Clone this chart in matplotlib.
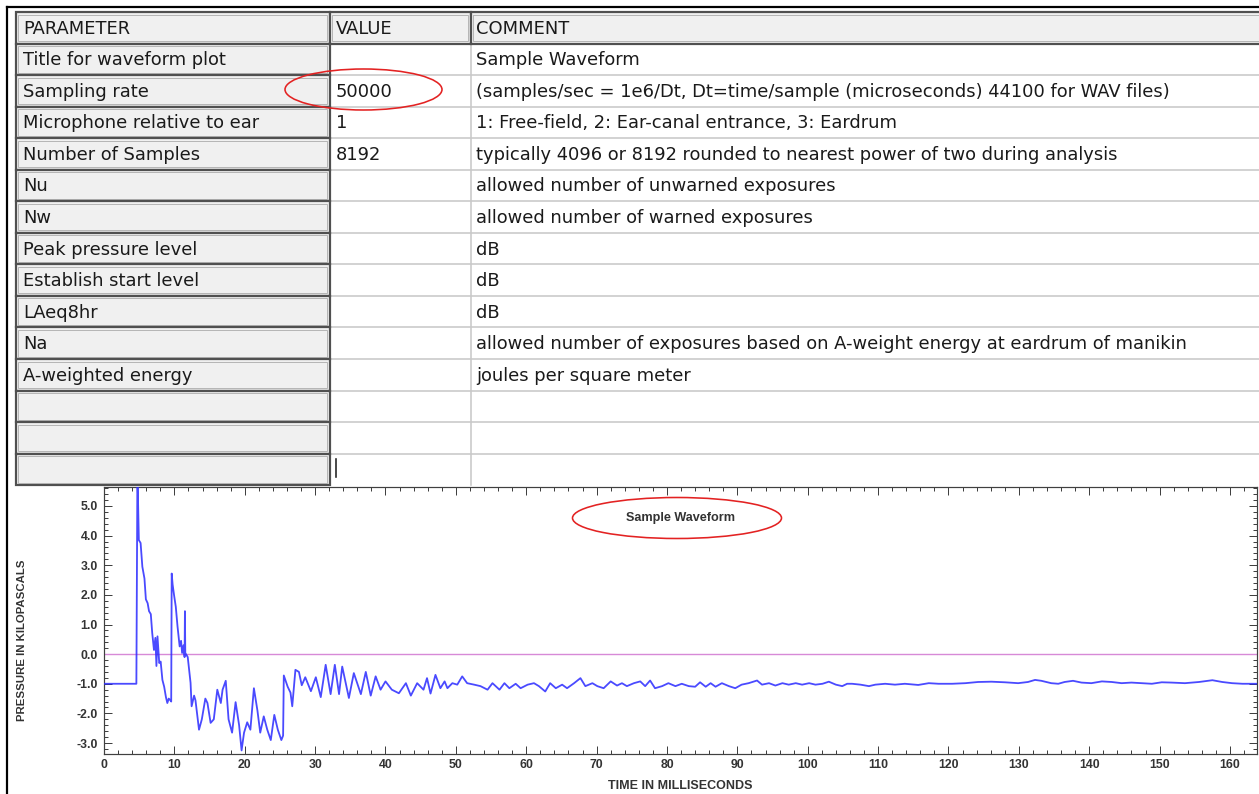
import matplotlib
matplotlib.use("Agg")
import matplotlib.pyplot as plt
from matplotlib.patches import Rectangle, Ellipse
from matplotlib.ticker import MultipleLocator, FormatStrFormatter

# ---------------- data ----------------
param_names = ["Title for waveform plot", "Sampling rate", "Microphone relative to ear",
               "Number of Samples", "Nu", "Nw", "Peak pressure level", "Establish start level",
               "LAeq8hr", "Na", "A-weighted energy", "", "", ""]
param_values = ["", "50000", "1", "8192", "", "", "", "", "", "", "", "", "", ""]
param_comments = ["Sample Waveform",
                  "(samples/sec = 1e6/Dt, Dt=time/sample (microseconds) 44100 for WAV files)",
                  "1: Free-field, 2: Ear-canal entrance, 3: Eardrum",
                  "typically 4096 or 8192 rounded to nearest power of two during analysis",
                  "allowed number of unwarned exposures",
                  "allowed number of warned exposures",
                  "dB", "dB", "dB",
                  "allowed number of exposures based on A-weight energy at eardrum of manikin",
                  "joules per square meter", "", "", ""]
header_labels = ["PARAMETER", "VALUE", "COMMENT"]

plot_title = "Sample Waveform"
x_label = "TIME IN MILLISECONDS"
y_label = "PRESSURE IN KILOPASCALS"

time_ms = [0.0, 4.6, 4.75, 4.95, 5.2, 5.45, 5.75, 5.95, 6.2, 6.4, 6.65, 6.85, 7.1, 7.3, 7.45,
           7.6, 7.85, 8.05, 8.3, 8.55, 8.8, 9.0, 9.2, 9.4, 9.55, 9.62, 9.75, 9.95, 10.2, 10.45,
           10.75, 10.95, 11.1, 11.3, 11.45, 11.5, 11.55, 11.9, 12.3, 12.45, 12.8, 13.0, 13.5,
           13.9, 14.4, 14.7, 15.15, 15.6, 16.1, 16.6, 16.85, 17.3, 17.7, 18.2, 18.7, 19.2,
           19.55, 19.9, 20.35, 20.8, 21.3, 21.8, 22.2, 22.7, 23.2, 23.7, 24.2, 24.7, 25.2,
           25.45, 25.55, 26.1, 26.5, 26.75, 27.2, 27.7, 28.1, 28.6, 29.4, 30.1, 30.8, 31.5,
           32.2, 32.8, 33.4, 33.85, 34.8, 35.5, 36.5, 37.2, 37.9, 38.6, 39.3, 40.0, 40.9,
           41.9, 42.9, 43.6, 44.5, 45.4, 45.9, 46.4, 47.1, 47.8, 48.4, 48.8, 49.5, 50.2,
           50.9, 51.6, 52.6, 53.5, 54.5, 55.2, 56.2, 56.9, 57.6, 58.5, 59.2, 60.2, 61.1,
           61.8, 62.7, 63.4, 64.2, 65.1, 65.8, 66.8, 67.7, 68.4, 69.4, 70.1, 71.0, 72.0,
           72.9, 73.6, 74.3, 75.3, 76.2, 76.9, 77.6, 78.3, 79.3, 80.2, 81.2, 82.1, 83.1,
           84.0, 84.7, 85.5, 86.2, 86.9, 87.8, 88.8, 89.7, 90.6, 91.6, 92.8, 93.5, 94.5,
           95.4, 96.4, 97.3, 98.3, 99.2, 100.2, 101.1, 102.1, 103.0, 104.0, 104.9, 105.6,
           106.3, 107.5, 108.7, 109.6, 111.0, 112.4, 113.8, 115.7, 117.2, 118.6, 120.5,
           122.4, 124.2, 126.1, 128.0, 129.9, 131.3, 132.3, 133.2, 134.6, 135.6, 136.5,
           137.7, 138.9, 140.3, 141.8, 143.2, 144.6, 146.0, 147.5, 148.9, 150.3, 151.7,
           153.6, 155.6, 157.5, 158.9, 160.3, 161.8, 163.8]
pressure_kpa = [-1.0, -1.0, 6.2, 3.85, 3.75, 2.95, 2.55, 1.85, 1.72, 1.45, 1.35, 0.72, 0.14, 0.55,
                -0.4, 0.6, -0.3, -0.25, -0.87, -1.1, -1.45, -1.65, -1.5, -1.55, -1.6, 2.72, 2.35,
                2.0, 1.6, 0.93, 0.26, 0.45, 0.04, 0.3, -0.1, 1.45, 0.04, -0.1, -0.97, -1.76,
                -1.4, -1.56, -2.55, -2.2, -1.5, -1.65, -2.32, -2.2, -1.2, -1.65, -1.2, -0.9,
                -2.2, -2.65, -1.62, -2.4, -3.25, -2.65, -2.3, -2.55, -1.15, -1.9, -2.65, -2.1,
                -2.55, -2.9, -2.05, -2.55, -2.9, -2.75, -0.72, -1.1, -1.3, -1.76, -0.53, -0.6,
                -1.05, -0.78, -1.25, -0.78, -1.45, -0.36, -1.35, -0.36, -1.35, -0.42, -1.48,
                -0.64, -1.35, -0.6, -1.4, -0.75, -1.2, -0.92, -1.2, -1.32, -0.98, -1.4, -0.98,
                -1.2, -0.81, -1.33, -0.7, -1.15, -0.92, -1.15, -0.98, -1.03, -0.75, -0.98,
                -1.03, -1.08, -1.2, -0.98, -1.2, -0.98, -1.15, -1.0, -1.15, -1.03, -0.98,
                -1.08, -1.26, -0.98, -1.15, -1.03, -1.15, -0.98, -0.81, -1.08, -0.98, -1.08,
                -1.15, -0.92, -1.06, -0.98, -1.08, -0.98, -0.92, -1.08, -0.89, -1.15, -1.08,
                -0.98, -1.08, -1.0, -1.08, -1.1, -0.95, -1.1, -0.98, -1.1, -0.98, -1.08, -1.15,
                -1.03, -0.98, -0.89, -1.03, -0.98, -1.06, -0.98, -1.03, -0.98, -1.03, -0.98,
                -1.03, -1.0, -0.93, -1.03, -1.08, -1.0, -1.0, -1.03, -1.08, -1.03, -1.0, -1.03,
                -1.0, -1.04, -0.98, -1.0, -1.0, -0.98, -0.94, -0.93, -0.95, -0.98, -0.94, -0.87,
                -0.9, -0.98, -1.0, -0.94, -0.9, -0.96, -0.98, -0.92, -0.94, -0.98, -0.96, -0.98,
                -1.0, -0.95, -0.96, -0.98, -0.94, -0.88, -0.94, -0.98, -1.0, -1.0]

# ---------------- figure ----------------
W, H = 1259, 794
fig = plt.figure(figsize=(W / 100, H / 100), dpi=100)
fig.patch.set_facecolor("white")

ov = fig.add_axes([0, 0, 1, 1])
ov.set_xlim(0, W)
ov.set_ylim(H, 0)
ov.axis("off")

PX = 0.72  # one pixel in points
tfont = dict(family="DejaVu Sans", fontsize=12.9, color="#1a1a1a", va="center")

x_par, x_val, x_com, x_end = 16, 330, 471, 1259
y_top, y_head = 12, 43.5
row_h = 31.55

grey = "#f0f0f0"
dark = "#505050"
light = "#c9c9c9"

def grey_cell(x0, y0, x1, y1):
    ov.add_patch(Rectangle((x0, y0), x1 - x0, y1 - y0, facecolor=grey,
                           edgecolor=dark, linewidth=2.2 * PX, zorder=2))
    ov.add_patch(Rectangle((x0 + 2.5, y0 + 2.5), x1 - x0 - 5, y1 - y0 - 5, facecolor="none",
                           edgecolor="#a8a8a8", linewidth=0.8 * PX, zorder=2))

# header
grey_cell(x_par, y_top, x_val, y_head)
grey_cell(x_val, y_top, x_com, y_head)
grey_cell(x_com, y_top, x_end + 5, y_head)
for lab, x in zip(header_labels, [x_par + 7, x_val + 6, x_com + 5]):
    ov.text(x, (y_top + y_head) / 2 + 1, lab, **tfont)

n_rows = len(param_names)
y_bottom = y_head + n_rows * row_h
# light grid for value / comment columns
for i in range(n_rows):
    yb = y_head + (i + 1) * row_h
    if i < n_rows - 1:
        ov.plot([x_val, x_end], [yb, yb], color=light, lw=1.6 * PX, zorder=1)
ov.plot([x_com, x_com], [y_head, y_bottom], color=light, lw=1.6 * PX, zorder=1)

for i, (pn, pv, pc) in enumerate(zip(param_names, param_values, param_comments)):
    y0 = y_head + i * row_h
    y1 = y0 + row_h
    grey_cell(x_par, y0, x_val, y1)
    yc = (y0 + y1) / 2 + 1
    if pn:
        ov.text(x_par + 7, yc, pn, **tfont)
    if pv:
        ov.text(x_val + 6, yc, pv, **tfont)
    if pc:
        ov.text(x_com + 5, yc, pc, **tfont)

# text cursor in the last value cell
ov.plot([x_val + 6, x_val + 6], [y_bottom - 26, y_bottom - 8], color="#202020", lw=1.6 * PX, zorder=3)

# outer black frame
ov.plot([7, W], [7, 7], color="black", lw=2.2 * PX, zorder=3)
ov.plot([7, 7], [7, H], color="black", lw=2.2 * PX, zorder=3)

# ---------------- waveform plot ----------------
L, R, T, B = 104, 1257, 487, 754
ax = fig.add_axes([L / W, 1 - B / H, (R - L) / W, (B - T) / H])
ax.set_facecolor("white")
ax.plot(time_ms, pressure_kpa, color="#2a2aff", lw=1.3, alpha=0.85, zorder=3)
ax.axhline(0.0, color="#d78ad7", lw=1.4 * PX, zorder=2)
ax.set_xlim(0, 163.84)
ax.set_ylim(-3.37, 5.64)

ax.xaxis.set_major_locator(MultipleLocator(10))
ax.xaxis.set_minor_locator(MultipleLocator(2))
ax.yaxis.set_major_locator(MultipleLocator(1.0))
ax.yaxis.set_minor_locator(MultipleLocator(0.2))
ax.yaxis.set_major_formatter(FormatStrFormatter("%.1f"))
ax.tick_params(which="both", direction="in", top=True, right=True, color="#404040",
               width=1.0 * PX)
ax.tick_params(which="major", length=8 * PX)
ax.tick_params(which="minor", length=4 * PX)
ax.tick_params(axis="x", which="major", pad=3.5)
ax.tick_params(axis="y", which="major", pad=4.5)
for lbl in ax.get_xticklabels() + ax.get_yticklabels():
    lbl.set_fontfamily("Liberation Sans")
    lbl.set_fontweight("bold")
    lbl.set_fontsize(8.8)
    lbl.set_color("#333333")
for s in ax.spines.values():
    s.set_color("#404040")
    s.set_linewidth(1.2 * PX)

lab_font = dict(family="Liberation Sans", fontweight="bold", color="#333333")
fig.text(680 / W, 1 - 786 / H, x_label, ha="center", va="center", fontsize=9.0, **lab_font)
fig.text(22 / W, 1 - 640 / H, y_label, ha="center", va="center", rotation=90,
         fontsize=8.2, **lab_font)
fig.text(680 / W, 1 - 518 / H, plot_title, ha="center", va="center",
         fontsize=9.1, **lab_font)

# ---------------- red annotation ellipses (top overlay) ----------------
top = fig.add_axes([0, 0, 1, 1], zorder=10)
top.set_xlim(0, W)
top.set_ylim(H, 0)
top.axis("off")
top.patch.set_alpha(0)
top.add_patch(Ellipse((363.5, 89.5), 157, 41, facecolor="none", edgecolor="#e32222",
                      linewidth=1.6 * PX))
top.add_patch(Ellipse((677, 518), 209, 41, facecolor="none", edgecolor="#e32222",
                      linewidth=1.6 * PX))

fig.savefig("out.png", dpi=100, facecolor="white")
